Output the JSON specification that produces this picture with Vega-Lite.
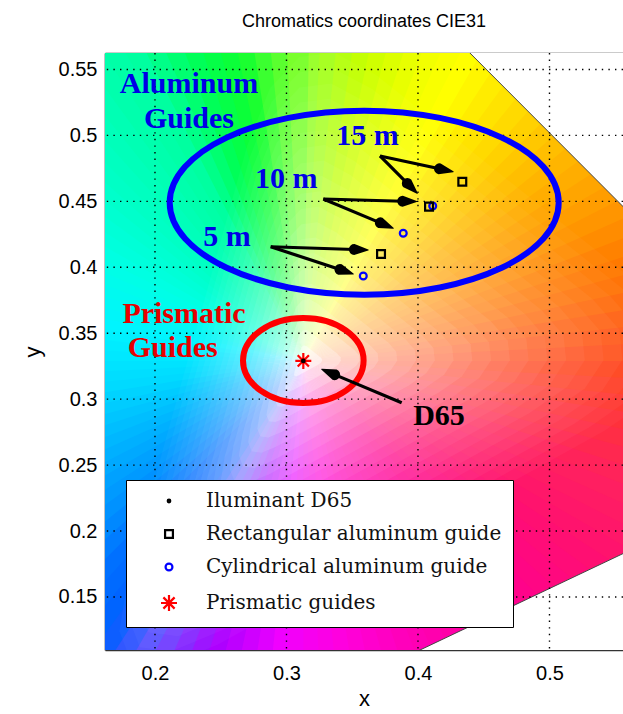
{
  "$schema": "https://vega.github.io/schema/vega-lite/v6.json",
  "width": 518,
  "height": 597,
  "autosize": {"type": "none"},
  "padding": {"left": 105, "top": 53, "right": 0, "bottom": 64},
  "background": "white",
  "view": {"stroke": null},
  "title": {"text": "Chromatics coordinates CIE31", "font": "Liberation Sans", "fontSize": 18, "fontWeight": "normal", "color": "black", "offset": 7, "baseline": "alphabetic"},
  "config": {
    "font": "Liberation Sans",
    "legend": {"orient": "none", "legendX": 21, "legendY": 427, "labelFont": "DejaVu Serif", "labelFontSize": 20, "labelColor": "#111111", "labelLimit": 500, "strokeColor": "black", "fillColor": "white", "padding": 11, "rowPadding": 13, "symbolOffset": 22, "labelOffset": 27, "symbolStrokeWidth": 2.2, "symbolSize": 256, "zindex": 5}
  },
  "resolve": {
    "scale": {"color": "independent", "size": "independent", "opacity": "independent", "shape": "independent"},
    "axis": {"x": "independent", "y": "independent"}
  },
  "layer": [
    {
      "data": {"values": [
        {"a":0,"b":4},{"a":3,"b":7},{"a":6,"b":10},{"a":9,"b":13},{"a":12,"b":16},{"a":15,"b":19},{"a":18,"b":22},{"a":21,"b":25},{"a":24,"b":28},{"a":27,"b":31},
        {"a":30,"b":34},{"a":33,"b":37},{"a":36,"b":40},{"a":39,"b":43},{"a":42,"b":46},{"a":45,"b":49},{"a":48,"b":52},{"a":51,"b":55},{"a":54,"b":58},{"a":57,"b":61},
        {"a":60,"b":64},{"a":63,"b":67},{"a":66,"b":70},{"a":69,"b":73},{"a":72,"b":76},{"a":75,"b":79},{"a":78,"b":82},{"a":81,"b":85},{"a":84,"b":88},{"a":87,"b":91},
        {"a":90,"b":94},{"a":93,"b":97},{"a":96,"b":100},{"a":99,"b":103},{"a":102,"b":106},{"a":105,"b":109},{"a":108,"b":112},{"a":111,"b":115},{"a":114,"b":118},{"a":117,"b":121},
        {"a":120,"b":124},{"a":123,"b":127},{"a":126,"b":130},{"a":129,"b":133},{"a":132,"b":136},{"a":135,"b":139},{"a":138,"b":142},{"a":141,"b":145},{"a":144,"b":148},{"a":147,"b":151},
        {"a":150,"b":154},{"a":153,"b":157},{"a":156,"b":160},{"a":159,"b":163},{"a":162,"b":166},{"a":165,"b":169},{"a":168,"b":172},{"a":171,"b":175},{"a":174,"b":178},{"a":177,"b":181},
        {"a":180,"b":184},{"a":183,"b":187},{"a":186,"b":190},{"a":189,"b":193},{"a":192,"b":196},{"a":195,"b":199},{"a":198,"b":202},{"a":201,"b":205},{"a":204,"b":208},{"a":207,"b":211},
        {"a":210,"b":214},{"a":213,"b":217},{"a":216,"b":220},{"a":219,"b":223},{"a":222,"b":226},{"a":225,"b":229},{"a":228,"b":232},{"a":231,"b":235},{"a":234,"b":238},{"a":237,"b":241},
        {"a":240,"b":244},{"a":243,"b":247},{"a":246,"b":250},{"a":249,"b":253},{"a":252,"b":256},{"a":255,"b":259},{"a":258,"b":262},{"a":261,"b":265},{"a":264,"b":268},{"a":267,"b":271},
        {"a":270,"b":274},{"a":273,"b":277},{"a":276,"b":280},{"a":279,"b":283},{"a":282,"b":286},{"a":285,"b":289},{"a":288,"b":292},{"a":291,"b":295},{"a":294,"b":298},{"a":297,"b":301},
        {"a":300,"b":304},{"a":303,"b":307},{"a":306,"b":310},{"a":309,"b":313},{"a":312,"b":316},{"a":315,"b":319},{"a":318,"b":322},{"a":321,"b":325},{"a":324,"b":328},{"a":327,"b":331},
        {"a":330,"b":334},{"a":333,"b":337},{"a":336,"b":340},{"a":339,"b":343},{"a":342,"b":346},{"a":345,"b":349},{"a":348,"b":352},{"a":351,"b":355},{"a":354,"b":358},{"a":357,"b":361}
      ]},
      "mark": {"type": "arc", "outerRadius": 470, "innerRadius": 0, "clip": true},
      "encoding": {
        "x": {"datum": 0.3128, "type": "quantitative", "scale": {"domain": [0.162, 0.5559], "nice": false, "zero": false}, "axis": null},
        "y": {"datum": 0.329, "type": "quantitative", "scale": {"domain": [0.1098, 0.5625], "nice": false, "zero": false}, "axis": null},
        "theta": {"field": "a", "type": "quantitative", "stack": null, "scale": {"domain": [0, 360], "range": [0, 6.283185307]}},
        "theta2": {"field": "b"},
        "color": {"field": "a", "type": "quantitative", "legend": null, "scale": {"interpolate": "rgb",
          "domain": [0,10,20,27,38,50,62,75,90,100,110,122,138,158,170,183,196,207,214,222,230,243,260,278,296,319,330,334,340,347,353,360],
          "range": ["#98ff28","#c8ff00","#f0ff00","#ffff00","#ffdd00","#ffb800","#ff9800","#ff7000","#ff3a10","#ff3040","#ff2060","#ff1070","#ff0090","#ff00b8","#ff00dc","#f000ff","#a800ff","#5850ff","#0060ff","#0070ff","#0090ff","#00b0ff","#00d8ff","#00f4ff","#00ffe4","#00ffb8","#00ffa0","#00ff80","#00ff50","#10ff30","#50ff30","#98ff28"]}}
      }
    },
    {
      "data": {"values": [
        {"s":0.05},{"s":0.1},{"s":0.15},{"s":0.2},{"s":0.25},{"s":0.3},{"s":0.35},{"s":0.4},{"s":0.45},{"s":0.5},
        {"s":0.55},{"s":0.6},{"s":0.65},{"s":0.7},{"s":0.75},{"s":0.8},{"s":0.85},{"s":0.9},{"s":0.95},{"s":1.0}
      ]},
      "mark": {"type": "point", "shape": "M0.7922,-0.1686L0.1688,-0.6654L0.0721,-0.7171L-0.01,-0.7068L-0.0777,-0.6343L-0.1308,-0.4998L-0.4062,0.4938L-0.4277,0.6284L-0.4002,0.7009L-0.3238,0.7112L-0.1984,0.6594L0.7004,0.1626L0.8185,0.0799L0.8732,-0.003L0.8644,-0.0857Z", "filled": true, "fill": "white", "strokeWidth": 0, "clip": true},
      "encoding": {
        "x": {"datum": 0.3128, "type": "quantitative", "scale": {"domain": [0.162, 0.5559], "nice": false, "zero": false}, "axis": null},
        "y": {"datum": 0.329, "type": "quantitative", "scale": {"domain": [0.1098, 0.5625], "nice": false, "zero": false}, "axis": null},
        "size": {"field": "s", "type": "quantitative", "legend": null, "scale": {"type": "pow", "exponent": 2, "domain": [0, 1], "range": [0, 739600]}},
        "opacity": {"field": "s", "type": "quantitative", "legend": null, "scale": {"domain": [0.05, 0.1, 0.2, 0.3, 0.5, 0.7, 1], "range": [0.6, 0.33, 0.165, 0.11, 0.066, 0.047, 0.033]}}
      }
    },
    {
      "data": {"values": [
        {"r": "locus", "x": 0.43, "y": 0.572, "y2": 0.6},
        {"r": "locus", "x": 0.58, "y": 0.422, "y2": 0.6},
        {"r": "purple", "x": 0.38, "y": 0.0996, "y2": 0.08},
        {"r": "purple", "x": 0.58, "y": 0.1943, "y2": 0.08}
      ]},
      "mark": {"type": "area", "color": "white", "opacity": 1, "clip": true, "line": {"color": "#444444", "strokeWidth": 1}},
      "encoding": {
        "x": {"field": "x", "type": "quantitative", "scale": {"domain": [0.162, 0.5559], "nice": false, "zero": false}, "axis": null},
        "y": {"field": "y", "type": "quantitative", "scale": {"domain": [0.1098, 0.5625], "nice": false, "zero": false}, "axis": null},
        "y2": {"field": "y2"},
        "detail": {"field": "r"}
      }
    },
    {
      "data": {"values": [{"gx": 0.2}, {"gx": 0.3}, {"gx": 0.4}, {"gx": 0.5}]},
      "mark": {"type": "rule", "color": "black", "strokeWidth": 1.4, "strokeDash": [1.4, 5.2]},
      "encoding": {
        "x": {"field": "gx", "type": "quantitative", "scale": {"domain": [0.162, 0.5559], "nice": false, "zero": false},
          "axis": {"orient": "bottom", "values": [0.2, 0.3, 0.4, 0.5], "format": ".1f", "title": "x", "grid": false, "tickSize": -7, "tickColor": "black", "tickWidth": 1.2, "domainColor": "#333333", "domainWidth": 1.6, "labelFont": "Liberation Sans", "labelFontSize": 20, "labelColor": "black", "labelPadding": 20, "labelFlush": false, "titleFont": "Liberation Sans", "titleFontSize": 22, "titleFontWeight": "normal", "titleColor": "black", "titlePadding": 5}}
      }
    },
    {
      "data": {"values": [{"gy": 0.15}, {"gy": 0.2}, {"gy": 0.25}, {"gy": 0.3}, {"gy": 0.35}, {"gy": 0.4}, {"gy": 0.45}, {"gy": 0.5}, {"gy": 0.55}]},
      "mark": {"type": "rule", "color": "black", "strokeWidth": 1.4, "strokeDash": [1.4, 5.2]},
      "encoding": {
        "y": {"field": "gy", "type": "quantitative", "scale": {"domain": [0.1098, 0.5625], "nice": false, "zero": false},
          "axis": {"orient": "left", "values": [0.15, 0.2, 0.25, 0.3, 0.35, 0.4, 0.45, 0.5, 0.55], "format": ".2~f", "title": "y", "grid": false, "tickSize": -7, "tickColor": "black", "tickWidth": 1.2, "domainColor": "#333333", "domainWidth": 1.6, "labelFont": "Liberation Sans", "labelFontSize": 20, "labelColor": "black", "labelPadding": 15, "labelFlush": false, "titleFont": "Liberation Sans", "titleFontSize": 22, "titleFontWeight": "normal", "titleColor": "black", "titlePadding": 14}}
      }
    },
    {
      "data": {"values": [{"x": 0.3591, "y": 0.449}]},
      "mark": {"type": "point", "shape": "M-1,0A1,0.473 0 1,1 1,0A1,0.473 0 1,1 -1,0Z", "size": 151321, "filled": false, "stroke": "#0000ff", "strokeWidth": 6, "opacity": 1},
      "encoding": {
        "x": {"field": "x", "type": "quantitative", "scale": {"domain": [0.162, 0.5559], "nice": false, "zero": false},
          "axis": {"orient": "top", "labels": false, "title": null, "grid": false, "tickSize": -7, "tickColor": "black", "tickWidth": 1.2, "values": [0.2, 0.3, 0.4, 0.5], "domainColor": "#333333", "domainWidth": 1.6, "minExtent": 0, "maxExtent": 0}},
        "y": {"field": "y", "type": "quantitative", "scale": {"domain": [0.1098, 0.5625], "nice": false, "zero": false}, "axis": null}
      }
    },
    {
      "data": {"values": [{"x": 0.3128, "y": 0.3293}]},
      "mark": {"type": "point", "shape": "M-1,0A1,0.705 0 1,1 1,0A1,0.705 0 1,1 -1,0Z", "size": 14544, "filled": false, "stroke": "#ff0000", "strokeWidth": 6, "opacity": 1},
      "encoding": {
        "x": {"field": "x", "type": "quantitative", "scale": {"domain": [0.162, 0.5559], "nice": false, "zero": false}, "axis": null},
        "y": {"field": "y", "type": "quantitative", "scale": {"domain": [0.1098, 0.5625], "nice": false, "zero": false}, "axis": null}
      }
    },
    {
      "data": {"values": [
        {"x": 0.3711, "y": 0.4844, "x2": 0.4164, "y2": 0.4747},
        {"x": 0.3711, "y": 0.4844, "x2": 0.3919, "y2": 0.4636},
        {"x": 0.328, "y": 0.4518, "x2": 0.3884, "y2": 0.4501},
        {"x": 0.328, "y": 0.4518, "x2": 0.3714, "y2": 0.4337},
        {"x": 0.288, "y": 0.4156, "x2": 0.3516, "y2": 0.4135},
        {"x": 0.288, "y": 0.4156, "x2": 0.3407, "y2": 0.3983},
        {"x": 0.3876, "y": 0.2973, "x2": 0.3366, "y2": 0.3186}
      ]},
      "mark": {"type": "rule", "color": "black", "strokeWidth": 3.2},
      "encoding": {
        "x": {"field": "x", "type": "quantitative", "scale": {"domain": [0.162, 0.5559], "nice": false, "zero": false}, "axis": null},
        "y": {"field": "y", "type": "quantitative", "scale": {"domain": [0.1098, 0.5625], "nice": false, "zero": false}, "axis": null},
        "x2": {"field": "x2"},
        "y2": {"field": "y2"}
      }
    },
    {
      "data": {"values": [
        {"id": 1, "x": 0.4164, "y": 0.4747, "w": 1}, {"id": 1, "x": 0.4268, "y": 0.4725, "w": 0},
        {"id": 2, "x": 0.3919, "y": 0.4636, "w": 1}, {"id": 2, "x": 0.3995, "y": 0.4561, "w": 0},
        {"id": 3, "x": 0.3884, "y": 0.4501, "w": 1}, {"id": 3, "x": 0.399, "y": 0.4498, "w": 0},
        {"id": 4, "x": 0.3714, "y": 0.4337, "w": 1}, {"id": 4, "x": 0.3812, "y": 0.4296, "w": 0},
        {"id": 5, "x": 0.3516, "y": 0.4135, "w": 1}, {"id": 5, "x": 0.3622, "y": 0.4131, "w": 0},
        {"id": 6, "x": 0.3407, "y": 0.3983, "w": 1}, {"id": 6, "x": 0.3508, "y": 0.3949, "w": 0},
        {"id": 7, "x": 0.3366, "y": 0.3186, "w": 1}, {"id": 7, "x": 0.3268, "y": 0.3227, "w": 0}
      ]},
      "mark": {"type": "trail", "color": "black"},
      "encoding": {
        "x": {"field": "x", "type": "quantitative", "scale": {"domain": [0.162, 0.5559], "nice": false, "zero": false}, "axis": null},
        "y": {"field": "y", "type": "quantitative", "scale": {"domain": [0.1098, 0.5625], "nice": false, "zero": false}, "axis": null},
        "detail": {"field": "id", "type": "nominal"},
        "order": {"field": "w", "type": "quantitative", "sort": "descending"},
        "size": {"field": "w", "type": "quantitative", "legend": null, "scale": {"domain": [0, 1], "range": [0, 11]}}
      }
    },
    {
      "data": {"values": [
        {"t": "Aluminum", "x": 0.2259, "y": 0.532, "k": "al"},
        {"t": "Guides", "x": 0.2259, "y": 0.5054, "k": "al"},
        {"t": "15 m", "x": 0.3616, "y": 0.4928, "k": "al"},
        {"t": "10 m", "x": 0.2999, "y": 0.4599, "k": "al"},
        {"t": "5 m", "x": 0.2548, "y": 0.4162, "k": "al"},
        {"t": "Prismatic", "x": 0.2221, "y": 0.358, "k": "pr"},
        {"t": "Guides", "x": 0.2135, "y": 0.3318, "k": "pr"},
        {"t": "D65", "x": 0.416, "y": 0.2804, "k": "d"}
      ]},
      "mark": {"type": "text", "font": "Liberation Serif", "fontWeight": "bold", "fontSize": 30, "align": "center", "baseline": "alphabetic"},
      "encoding": {
        "x": {"field": "x", "type": "quantitative", "scale": {"domain": [0.162, 0.5559], "nice": false, "zero": false}, "axis": null},
        "y": {"field": "y", "type": "quantitative", "scale": {"domain": [0.1098, 0.5625], "nice": false, "zero": false}, "axis": null},
        "text": {"field": "t"},
        "color": {"field": "k", "type": "nominal", "legend": null, "scale": {"domain": ["al", "pr", "d"], "range": ["#0000e6", "#e60000", "#000000"]}}
      }
    },
    {
      "data": {"values": [
        {"series": "Cylindrical aluminum guide", "x": 0.3584, "y": 0.3934},
        {"series": "Cylindrical aluminum guide", "x": 0.3888, "y": 0.4258},
        {"series": "Cylindrical aluminum guide", "x": 0.4112, "y": 0.4465},
        {"series": "Rectangular aluminum guide", "x": 0.3719, "y": 0.4101},
        {"series": "Rectangular aluminum guide", "x": 0.4084, "y": 0.446},
        {"series": "Rectangular aluminum guide", "x": 0.4337, "y": 0.4649},
        {"series": "Prismatic guides", "x": 0.3128, "y": 0.329},
        {"series": "Iluminant D65", "x": 0.3128, "y": 0.329}
      ]},
      "mark": {"type": "point", "size": 256, "strokeWidth": 2.2, "opacity": 1, "filled": false},
      "encoding": {
        "x": {"field": "x", "type": "quantitative", "scale": {"domain": [0.162, 0.5559], "nice": false, "zero": false}, "axis": null},
        "y": {"field": "y", "type": "quantitative", "scale": {"domain": [0.1098, 0.5625], "nice": false, "zero": false}, "axis": null},
        "color": {"field": "series", "type": "nominal", "title": null, "scale": {"domain": ["Iluminant D65", "Rectangular aluminum guide", "Cylindrical aluminum guide", "Prismatic guides"], "range": ["#000000", "#000000", "#0000ff", "#ff0000"]}},
        "shape": {"field": "series", "type": "nominal", "title": null, "scale": {"domain": ["Iluminant D65", "Rectangular aluminum guide", "Cylindrical aluminum guide", "Prismatic guides"], "range": [
          "M-0.16,0A0.16,0.16 0 1,1 0.16,0A0.16,0.16 0 1,1 -0.16,0Z",
          "M-0.49,-0.49L0.49,-0.49L0.49,0.49L-0.49,0.49Z",
          "M-0.43,0A0.43,0.43 0 1,1 0.43,0A0.43,0.43 0 1,1 -0.43,0Z",
          "M0,-1L0,1M-1,0L1,0M-0.7,-0.7L0.7,0.7M-0.7,0.7L0.7,-0.7"]}}
      }
    }
  ]
}
